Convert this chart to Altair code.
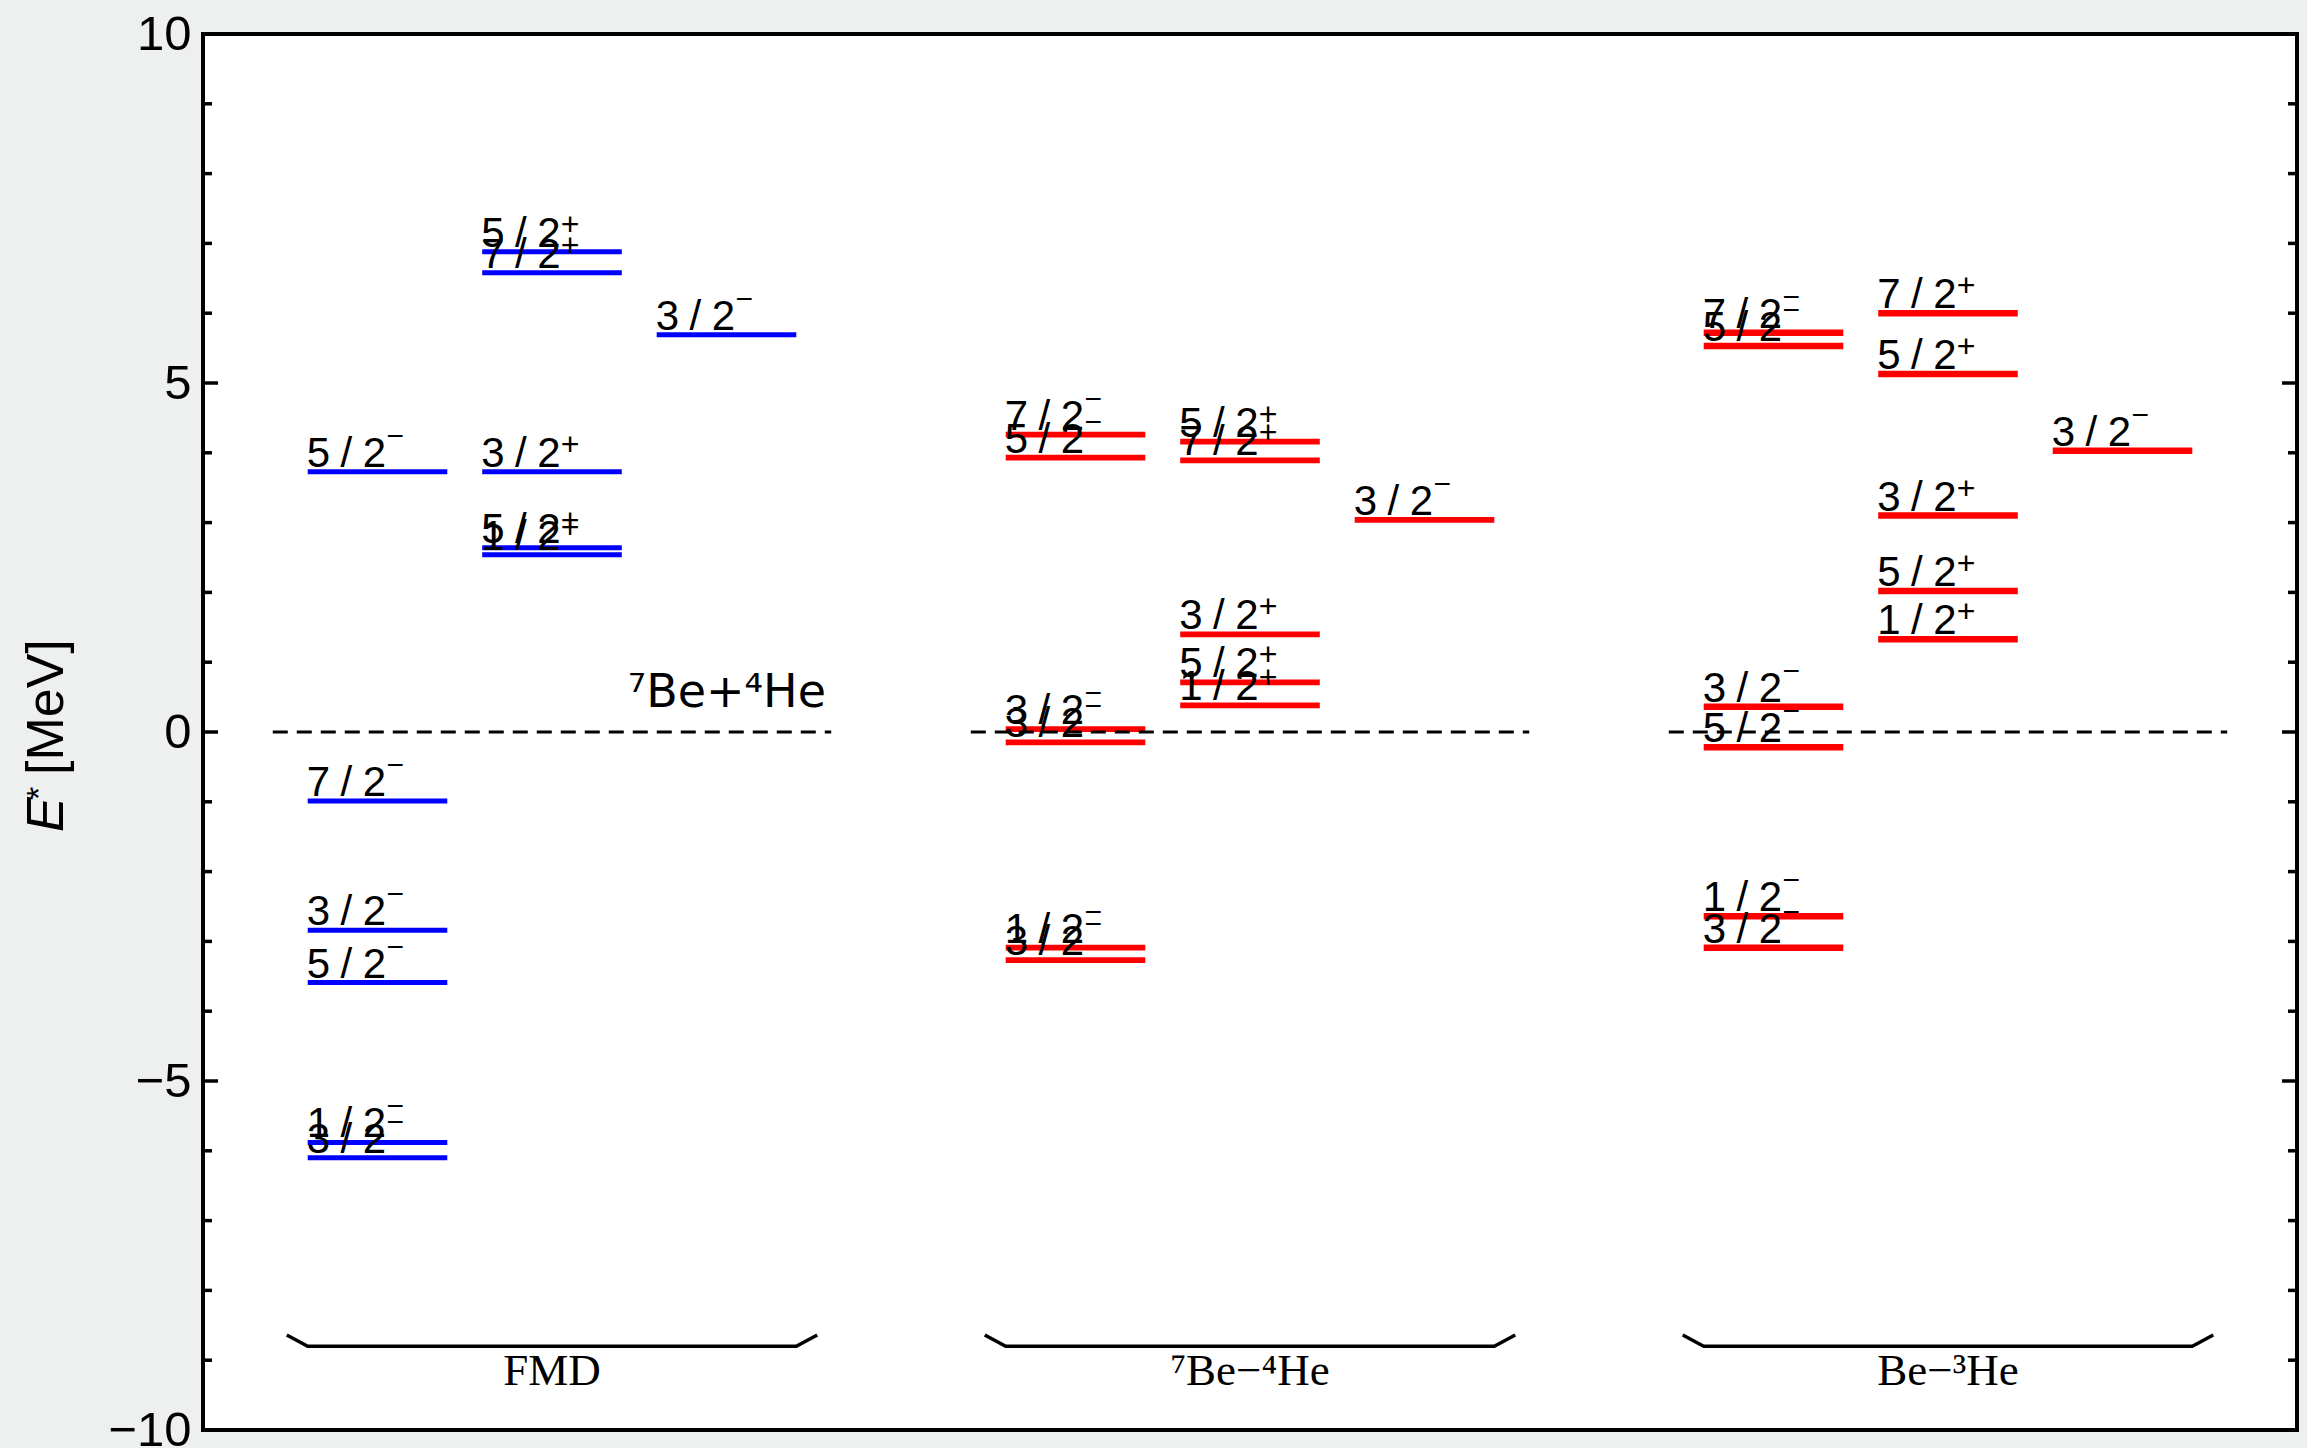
import altair as alt
import pandas as pd

# ---- level schemes -------------------------------------------------------
MODELS = ["FMD", "⁷Be−⁴He", "Be−³He"]

# column inside each scheme: 0 = negative-parity band, 1 = positive-parity band,
# 2 = extra 3/2- state
LEVEL_COL = [0, 0, 0, 0, 0, 0, 1, 1, 1, 1, 1, 2]
LEVEL_PARITY = ["−", "−", "−", "−", "−", "−", "+", "+", "+", "+", "+", "−"]

FMD_J = ["5", "7", "3", "5", "1", "3", "5", "7", "3", "5", "1", "3"]
FMD_E = [3.73, -0.99, -2.84, -3.59, -5.88, -6.10, 6.88, 6.58, 3.73, 2.64, 2.54, 5.69]

BE4_J = ["7", "5", "3", "3", "1", "3", "5", "7", "3", "5", "1", "3"]
BE4_E = [4.26, 3.93, 0.04, -0.15, -3.09, -3.27, 4.16, 3.89, 1.40, 0.71, 0.38, 3.04]

BE3_J = ["7", "5", "3", "5", "1", "3", "7", "5", "3", "5", "1", "3"]
BE3_E = [5.72, 5.53, 0.36, -0.22, -2.64, -3.09, 6.00, 5.13, 3.10, 2.02, 1.33, 4.03]

# 7Be + 4He threshold
THRESH_E = [0.0, 0.0, 0.0]
THRESH_LABEL = "⁷Be+⁴He"
THRESH_LABEL_X = 2.57
THRESH_LABEL_E = 0.36

# layout of the schemes along x
GROUP_STEP = 4
LEVEL_HALF = 0.4
THRESH_SPAN = (-0.6, 2.6)
BRACKET_X = [-0.52, -0.40, 2.40, 2.52]
BRACKET_E = [-8.64, -8.80, -8.80, -8.64]
GROUP_LABEL_X = 1.0
GROUP_LABEL_E = -9.36

Y_TICKS = list(range(-10, 11))
Y_LABELS = [-10, -5, 0, 5, 10]

W, H = 2094, 1396

# ---- tables --------------------------------------------------------------
rows = []
for g, (js, es) in enumerate([(FMD_J, FMD_E), (BE4_J, BE4_E), (BE3_J, BE3_E)]):
    for c, j, p, e in zip(LEVEL_COL, js, LEVEL_PARITY, es):
        left = g * GROUP_STEP + c - LEVEL_HALF
        rows.append({"model": MODELS[g], "x": left, "xe": left + 2 * LEVEL_HALF,
                     "E": e, "label": f"{j}\u2005/\u20052", "pi": p})
levels = pd.DataFrame(rows)

thresh = pd.DataFrame({
    "x": [g * GROUP_STEP + THRESH_SPAN[0] for g in range(3)],
    "xe": [g * GROUP_STEP + THRESH_SPAN[1] for g in range(3)],
    "E": THRESH_E,
})

brackets = pd.DataFrame([
    {"model": MODELS[g], "x": g * GROUP_STEP + bx, "E": be, "k": k}
    for g in range(3) for k, (bx, be) in enumerate(zip(BRACKET_X, BRACKET_E))
])

group_labels = pd.DataFrame({
    "x": [g * GROUP_STEP + GROUP_LABEL_X for g in range(3)],
    "E": [GROUP_LABEL_E] * 3,
    "name": MODELS,
})

ticks = pd.DataFrame({"E": Y_TICKS, "major": [t % 5 == 0 for t in Y_TICKS]})

# ---- encodings shared by all layers ---------------------------------------
xs = alt.Scale(domain=[-1, 11], nice=False, zero=False)
ys = alt.Scale(domain=[-10, 10], nice=False, zero=False)
y_axis = alt.Axis(values=Y_LABELS, labelFont="Liberation Sans", labelFontSize=49,
                  labelColor="black", labelPadding=12, ticks=False, tickSize=0,
                  domain=False, grid=False)
X = alt.X("x:Q", scale=xs, axis=None)
Y = alt.Y("E:Q", scale=ys, axis=y_axis, title=None)

colour = alt.Color("model:N", scale=alt.Scale(domain=MODELS, range=["#0000ff", "#ff0000", "#ff0000"]),
                   legend=None)
width = alt.StrokeWidth("model:N", scale=alt.Scale(domain=MODELS, range=[5, 6.5, 6.5]), legend=None)

# ---- layers ---------------------------------------------------------------
major = alt.Chart(ticks).transform_filter(alt.datum.major)
minor = alt.Chart(ticks).transform_filter(~alt.datum.major)
tick_layers = [
    major.mark_rule(color="black", strokeWidth=3.5).encode(y=Y, x=alt.value(0), x2=alt.value(15)),
    minor.mark_rule(color="black", strokeWidth=3.5).encode(y=Y, x=alt.value(0), x2=alt.value(9)),
    major.mark_rule(color="black", strokeWidth=3.5).encode(y=Y, x=alt.value(W - 15), x2=alt.value(W)),
    minor.mark_rule(color="black", strokeWidth=3.5).encode(y=Y, x=alt.value(W - 9), x2=alt.value(W)),
]

level_lines = alt.Chart(levels).mark_rule().encode(x=X, x2="xe:Q", y=Y, color=colour, strokeWidth=width)

thresh_lines = alt.Chart(thresh).mark_rule(color="black", strokeWidth=3, strokeDash=[15, 9]).encode(
    x=X, x2="xe:Q", y=Y)

bracket_lines = alt.Chart(brackets).mark_line(color="black", strokeWidth=3.5).encode(
    x=X, y=Y, detail="model:N", order="k:Q")

level_text = alt.Chart(levels).mark_text(
    align="left", baseline="alphabetic", dx=-1, dy=-5, font="Liberation Sans", fontSize=42, color="black"
).encode(x=X, y=Y, text="label:N")

sup_minus = alt.Chart(levels).transform_filter(alt.datum.pi == "−").mark_text(
    align="center", baseline="middle", dx=87.5, dy=-35, font="Liberation Sans", fontSize=30, color="black"
).encode(x=X, y=Y, text="pi:N")

sup_plus = alt.Chart(levels).transform_filter(alt.datum.pi == "+").mark_text(
    align="center", baseline="middle", dx=88, dy=-27, font="Liberation Sans", fontSize=32, color="black"
).encode(x=X, y=Y, text="pi:N")

thresh_text = alt.Chart(pd.DataFrame({"x": [THRESH_LABEL_X], "E": [THRESH_LABEL_E], "t": [THRESH_LABEL]})).mark_text(
    align="right", baseline="alphabetic", font="DejaVu Sans", fontSize=46, color="black"
).encode(x=X, y=Y, text="t:N")

group_text = alt.Chart(group_labels).mark_text(
    align="center", baseline="alphabetic", font="Liberation Serif", fontSize=45, color="black"
).encode(x=X, y=Y, text="name:N")

# y-axis title: italic E with a raised asterisk, then the unit
title_df = pd.DataFrame({"t": ["E"]})
title_e = alt.Chart(title_df).mark_text(
    angle=270, align="left", baseline="alphabetic", font="Liberation Sans", fontSize=52,
    fontStyle="italic", color="black"
).encode(x=alt.value(-140), y=alt.value(798), text=alt.value("E"))
title_star = alt.Chart(title_df).mark_text(
    angle=270, align="left", baseline="alphabetic", font="Liberation Sans", fontSize=34, color="black"
).encode(x=alt.value(-153), y=alt.value(766), text=alt.value("*"))
title_unit = alt.Chart(title_df).mark_text(
    angle=270, align="left", baseline="alphabetic", font="Liberation Sans", fontSize=52, color="black"
).encode(x=alt.value(-140), y=alt.value(741), text=alt.value("[MeV]"))

chart = alt.layer(
    *tick_layers, level_lines, thresh_lines, bracket_lines,
    level_text, sup_minus, sup_plus, thresh_text, group_text,
    title_e, title_star, title_unit,
).properties(
    width=W, height=H,
    padding={"left": 203, "top": 34, "right": 10, "bottom": 18},
    autosize=alt.AutoSizeParams(type="none"),
    background="#eeefef",
).configure_view(stroke="black", strokeWidth=4, fill="white")

chart.save("out.html", embed_options={"renderer": "svg", "actions": False})
